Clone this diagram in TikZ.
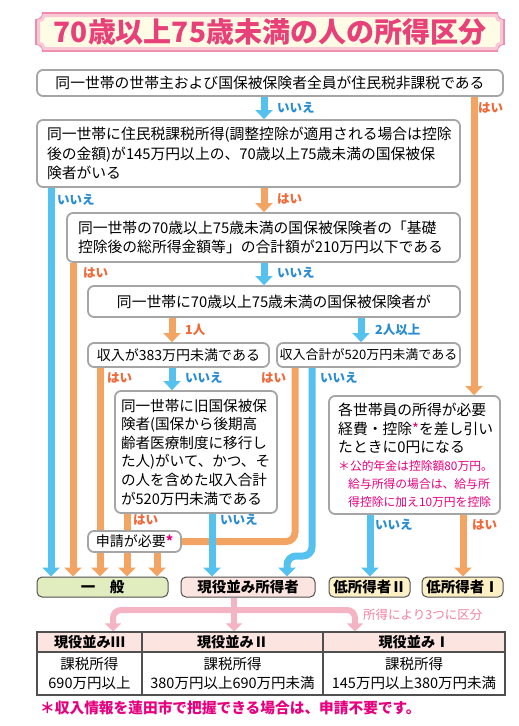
\documentclass[tikz,border=0pt]{standalone}
\usepackage{fontspec}
\setmainfont{Noto Sans CJK JP}
\usetikzlibrary{arrows.meta,backgrounds}
\definecolor{lblue}{RGB}{84,193,239}
\definecolor{lorange}{RGB}{244,164,98}
\definecolor{tblue}{RGB}{40,140,212}
\definecolor{torange}{RGB}{240,104,56}
\definecolor{mag}{RGB}{230,0,126}
\definecolor{boxgray}{RGB}{165,165,165}
\definecolor{dgray}{RGB}{80,80,80}
\definecolor{pinkl}{RGB}{244,180,196}
\definecolor{pinkt}{RGB}{238,128,160}
\definecolor{titlec}{RGB}{232,64,120}
\definecolor{titleb}{RGB}{238,140,172}
\definecolor{titleband}{RGB}{249,200,214}
\definecolor{cream}{RGB}{255,252,230}
\definecolor{catgreen}{RGB}{226,237,191}
\definecolor{catpink}{RGB}{252,228,224}
\definecolor{catyellow}{RGB}{253,240,196}
\newcommand\fs[2]{\fontsize{#1}{#2}\selectfont}
\newcommand\notchpath[5]{(#1+#5,#2) -- (#3-#5,#2) .. controls (#3-#5,#2+0.55*#5) and (#3-0.55*#5,#2+#5) .. (#3,#2+#5) -- (#3,#4-#5) .. controls (#3-0.55*#5,#4-#5) and (#3-#5,#4-0.55*#5) .. (#3-#5,#4) -- (#1+#5,#4) .. controls (#1+#5,#4-0.55*#5) and (#1+0.55*#5,#4-#5) .. (#1,#4-#5) -- (#1,#2+#5) .. controls (#1+0.55*#5,#2+#5) and (#1+#5,#2+0.55*#5) .. (#1+#5,#2) -- cycle}
\begin{document}
\begin{tikzpicture}[x=1pt,y=-1pt,
  qbox/.style={draw=boxgray, line width=1.8pt, rounded corners=6pt, fill=white, inner sep=0pt, font=\fs{14.8}{19.5}},
  barr/.style={draw=lblue, line width=7pt, -{Triangle[width=17pt,length=9pt]}},
  oarr/.style={draw=lorange, line width=7pt, -{Triangle[width=17pt,length=9pt]}},
  oline/.style={draw=lorange, line width=7pt},
  parr/.style={draw=pinkl, line width=6pt, -{Triangle[width=16pt,length=8pt]}},
  blab/.style={text=tblue, font=\bfseries\fs{12.5}{14}, anchor=west, inner sep=0pt},
  olab/.style={text=torange, font=\bfseries\fs{12.5}{14}, anchor=west, inner sep=0pt},
  cat/.style={draw=dgray, line width=1pt, rounded corners=5pt, minimum height=20pt, inner sep=0pt, font=\bfseries\fs{14.5}{16}},
  cell/.style={draw=dgray, line width=1.1pt, inner sep=0pt, align=center, font=\fs{14.5}{19}},
  hcell/.style={cell, fill=catpink, minimum height=20pt, font=\bfseries\fs{14.2}{16}},
  bcell/.style={cell, minimum height=43pt}
]
\useasboundingbox (0,0) rectangle (519,726);
% title
\draw[titleb, line width=1.8pt] \notchpath{36}{13}{504}{51}{7};
\draw[titleband, fill=cream, line width=3pt] \notchpath{38.5}{15.5}{501.5}{48.5}{5.5};
\node[text=titlec, font=\bfseries\fs{28}{30}] (title) at (270,32) {70歳以上75歳未満の人の所得区分};

% question boxes
\node[qbox, minimum width=466pt, minimum height=26pt, align=center] (b1) at (270,83) {同一世帯の世帯主および国保被保険者全員が住民税非課税である};
\node[qbox, text width=403pt, inner xsep=10pt, minimum height=67pt, align=left] (b2) at (248.5,153.5) {同一世帯に住民税課税所得(調整控除が適用される場合は控除\\後の金額)が145万円以上の、70歳以上75歳未満の国保被保\\険者がいる};
\node[qbox, text width=371pt, inner xsep=11pt, minimum height=49pt, align=left] (b3) at (263.5,237.5) {同一世帯の70歳以上75歳未満の国保被保険者の「基礎\\控除後の総所得金額等」の合計額が210万円以下である};
\node[qbox, minimum width=372pt, minimum height=31pt, align=center] (b4) at (274,301.5) {同一世帯に70歳以上75歳未満の国保被保険者が};
\node[qbox, minimum width=181pt, minimum height=24pt, align=center, font=\fs{14}{16}] (b5) at (178.5,355) {収入が383万円未満である};
\node[qbox, minimum width=183pt, minimum height=24pt, align=center, font=\fs{13}{16}] (b6) at (368.5,355) {収入合計が520万円未満である};
\node[qbox, text width=150pt, inner xsep=6pt, minimum height=122pt, align=left, font=\fs{14.6}{18.6}] (b7) at (196,452) {同一世帯に旧国保被保\\険者(国保から後期高\\齢者医療制度に移行し\\た人)がいて、かつ、そ\\の人を含めた収入合計\\が520万円未満である};
\node[qbox, minimum width=171pt, minimum height=118pt] (b8) at (414.5,455) {};
\node[anchor=west, inner sep=0pt, align=left, font=\fs{14.8}{18.5}] (b8a) at (338,428.5) {各世帯員の所得が必要\\経費・控除{\color{mag}*}を差し引い\\たときに0円になる};
\node[anchor=west, inner sep=0pt, align=left, text=mag, font=\fs{11.8}{18}] (b8b) at (338,484) {＊公的年金は控除額80万円。\\\hspace*{10pt}給与所得の場合は、給与所\\\hspace*{10pt}得控除に加え10万円を控除};
\node[qbox, minimum width=93pt, minimum height=21pt, font=\fs{14}{16}] (sh) at (134.5,541.5) {申請が必要{\color{mag}\bfseries *}};

% categories
\node[cat, fill=catgreen, minimum width=131pt] (ippan) at (102.5,587) {一　般};
\node[cat, fill=catpink, minimum width=134pt] (gen) at (248,587) {現役並み所得者};
\node[cat, fill=catyellow, minimum width=81pt] (low2) at (369.5,587) {低所得者Ⅱ};
\node[cat, fill=catyellow, minimum width=81pt] (low1) at (462.5,587) {低所得者Ⅰ};

% table
\node[hcell, minimum width=105pt] (h1) at (89.5,642) {現役並みⅢ};
\node[hcell, minimum width=181pt] (h2) at (232.5,642) {現役並みⅡ};
\node[hcell, minimum width=182pt] (h3) at (414,642) {現役並みⅠ};
\node[bcell, minimum width=105pt] (c1) at (89.5,673.5) {課税所得\\690万円以上};
\node[bcell, minimum width=181pt] (c2) at (232.5,673.5) {課税所得\\380万円以上690万円未満};
\node[bcell, minimum width=182pt] (c3) at (414,673.5) {課税所得\\145万円以上380万円未満};
\node[anchor=west, inner sep=0pt, text=mag, font=\bfseries\fs{14.7}{16}] (foot) at (40,708) {＊収入情報を蓮田市で把握できる場合は、申請不要です。};

% x positions
\coordinate (xa) at (51,0);
\coordinate (xb) at (73,0);
\coordinate (xc) at (100,0);
\coordinate (xd) at (127,0);
\coordinate (xe) at (157,0);
\coordinate (xf) at (172,0);
\coordinate (xk) at (212,0);
\coordinate (xm) at (264,0);
\coordinate (xj) at (287,0);
\coordinate (xh) at (295,0);
\coordinate (xi) at (312,0);
\coordinate (xg) at (361,0);
\coordinate (xl) at (370,0);
\coordinate (xn) at (463,0);
\coordinate (xr) at (474,0);
\coordinate (ybl) at (0,556);
\coordinate (p1) at (113,0);
\coordinate (p2) at (234,0);
\coordinate (p3) at (355,0);
\coordinate (pm) at (0,610);

\begin{scope}[on background layer]
\draw[barr] (b1.south -| xm) -- (b2.north -| xm);
\draw[oarr] (b1.south -| xr) -- (b8.north -| xr);
\draw[barr] (b2.south -| xa) -- (ippan.north -| xa);
\draw[oarr] (b2.south -| xm) -- (b3.north -| xm);
\draw[oarr] (b3.south -| xb) -- (ippan.north -| xb);
\draw[barr] (b3.south -| xm) -- (b4.north -| xm);
\draw[oarr] (b4.south -| xf) -- (b5.north -| xf);
\draw[barr] (b4.south -| xg) -- (b6.north -| xg);
\draw[oarr] (b5.south -| xc) -- (ippan.north -| xc);
\draw[barr] (b5.south -| xf) -- (b7.north -| xf);
\draw[oline, rounded corners=9pt] (b6.south -| xh) -- (xh |- sh.east) -- (sh.east);
\draw[barr, rounded corners=9pt] (b6.south -| xi) -- (xi |- ybl) -- (xj |- ybl) -- (gen.north -| xj);
\draw[oline] (b7.south -| xd) -- (sh.north -| xd);
\draw[oarr] (sh.south -| xd) -- (ippan.north -| xd);
\draw[oarr] (sh.south -| xe) -- (ippan.north -| xe);
\draw[barr] (b7.south -| xk) -- (gen.north -| xk);
\draw[barr] (b8.south -| xl) -- (low2.north -| xl);
\draw[oarr] (b8.south -| xn) -- (low1.north -| xn);
\draw[parr] (gen.south -| p2) -- (h2.north -| p2);
\draw[parr, rounded corners=8pt] (p2 |- pm) -- (p1 |- pm) -- (h1.north -| p1);
\draw[parr, rounded corners=8pt] (p2 |- pm) -- (p3 |- pm) -- (h3.north -| p3);
\end{scope}

% labels
\node[blab] (l1) at (277,108) {いいえ};
\node[olab] (l2) at (478,108) {はい};
\node[blab] (l3) at (57,200) {いいえ};
\node[olab] (l4) at (277,199) {はい};
\node[olab] (l5) at (83,273) {はい};
\node[blab] (l6) at (277,273) {いいえ};
\node[olab] (l7) at (185,330) {1人};
\node[blab] (l8) at (375,330) {2人以上};
\node[olab] (l9) at (107,378) {はい};
\node[blab] (l10) at (185,378) {いいえ};
\node[olab] (l11) at (261,378) {はい};
\node[blab] (l12) at (320,378) {いいえ};
\node[olab] (l13) at (133,520) {はい};
\node[blab] (l14) at (220,520) {いいえ};
\node[blab] (l15) at (375,525) {いいえ};
\node[olab] (l16) at (472,525) {はい};
\node[anchor=west, inner sep=0pt, text=pinkt, font=\fs{12.5}{14}] (lp) at (363,615) {所得により3つに区分};
\end{tikzpicture}
\end{document}
